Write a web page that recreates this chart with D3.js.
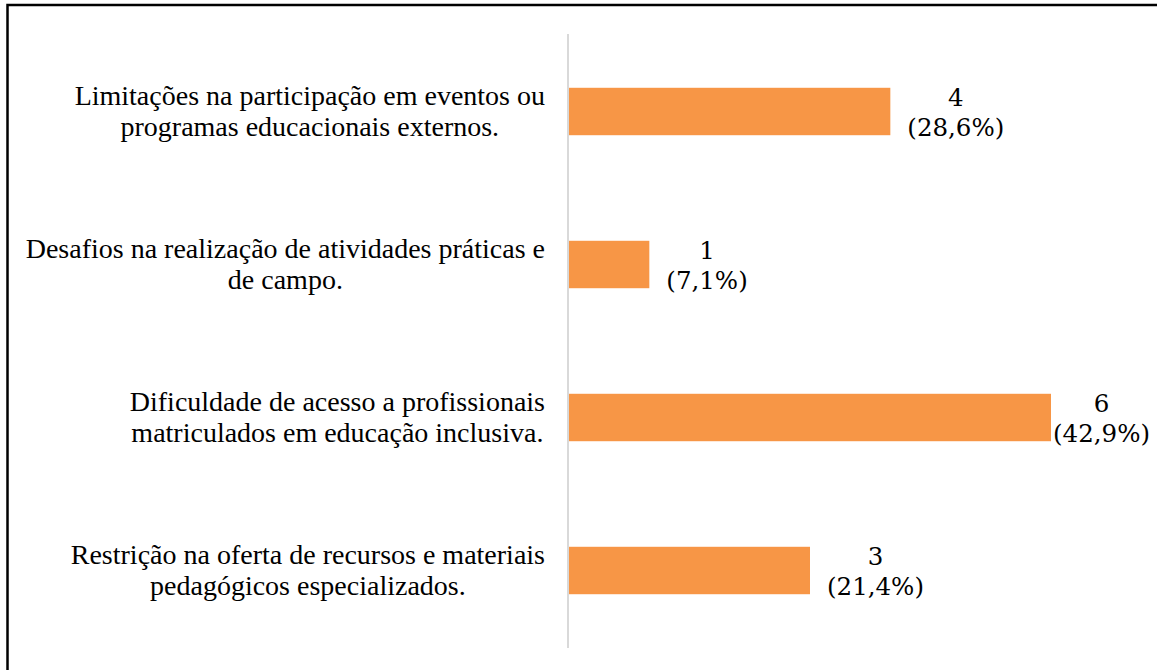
<!DOCTYPE html>
<html>
<head>
<meta charset="utf-8">
<script src="https://cdn.jsdelivr.net/npm/d3@7"></script>
<style>
  body { margin: 0; background: #fff; }
  .cat { font-family: "Liberation Serif", Tinos, "Times New Roman", Times, serif; font-size: 28px; }
  .val { font-family: "DejaVu Serif", serif; font-size: 24.5px; }
</style>
</head>
<body>
<script>
// data -----------------------------------------------------------------
var categories = [
  ["Limitações na participação em eventos ou", "programas educacionais externos."],
  ["Desafios na realização de atividades práticas e", "de campo."],
  ["Dificuldade de acesso a profissionais", "matriculados em educação inclusiva."],
  ["Restrição na oferta de recursos e materiais", "pedagógicos especializados."]
];
var counts = [4, 1, 6, 3];
var percents = ["28,6%", "7,1%", "42,9%", "21,4%"];

var width = 1157, height = 670;

var svg = d3.select("body").append("svg")
  .attr("width", width)
  .attr("height", height);

// frame
svg.append("rect")
  .attr("x", 7.5).attr("y", 5)
  .attr("width", 1300).attr("height", 800)
  .attr("fill", "none")
  .attr("stroke", "#000")
  .attr("stroke-width", 2.5);

var idx = d3.range(categories.length);

var y = d3.scaleBand()
  .domain(idx)
  .range([35, 647])
  .paddingInner(0.69)
  .paddingOuter(0.345);

var x = d3.scaleLinear()
  .domain([0, 6])
  .range([569, 1051]);

// bars
svg.selectAll(".bar")
  .data(idx)
  .enter().append("rect")
  .attr("class", "bar")
  .attr("x", x(0))
  .attr("y", function(i) { return y(i); })
  .attr("width", function(i) { return x(counts[i]) - x(0); })
  .attr("height", y.bandwidth())
  .style("fill", "#F79646");

// vertical axis line
svg.append("line")
  .attr("x1", 568).attr("x2", 568)
  .attr("y1", 34).attr("y2", 648)
  .style("stroke", "#D9D9D9")
  .style("stroke-width", 2);

// category labels: lines centred inside a box right-aligned at x=545
var cat = svg.selectAll(".cat")
  .data(idx)
  .enter().append("text")
  .attr("class", "cat")
  .attr("text-anchor", "middle")
  .style("fill", "#000");

cat.each(function(i) {
  var t = d3.select(this);
  var cy = y(i) + y.bandwidth() / 2;
  var spans = categories[i].map(function(line, k) {
    return t.append("tspan")
      .attr("y", cy - 7 + (k * 31))
      .text(line);
  });
  var maxW = d3.max(spans, function(s) { return s.node().getComputedTextLength(); });
  spans.forEach(function(s) { s.attr("x", 545 - maxW / 2); });
});

// value labels
var val = svg.selectAll(".val")
  .data(idx)
  .enter().append("text")
  .attr("class", "val")
  .attr("text-anchor", "middle")
  .style("fill", "#000");

val.each(function(i) {
  var t = d3.select(this);
  var cy = y(i) + y.bandwidth() / 2;
  var l1 = t.append("tspan").attr("y", cy - 6).text(counts[i]);
  var l2 = t.append("tspan").attr("y", cy + 24).text("(" + percents[i] + ")");
  var w = l2.node().getComputedTextLength();
  var cx = x(counts[i]) + 17 + w / 2;
  if (cx + w / 2 > 1150) cx = 1150 - w / 2;
  l1.attr("x", cx);
  l2.attr("x", cx);
});
</script>
</body>
</html>
